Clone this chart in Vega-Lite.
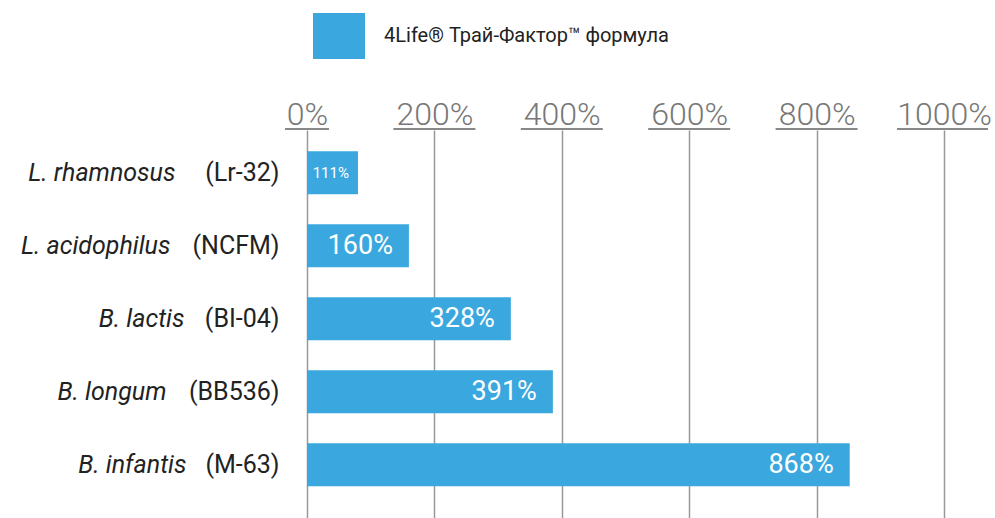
{
  "$schema": "https://vega.github.io/schema/vega-lite/v6.json",
  "width": 637,
  "height": 388,
  "autosize": {"type": "none"},
  "padding": {"left": 307, "top": 130, "right": 51, "bottom": 0},
  "background": "white",
  "config": {"view": {"stroke": null}, "font": "Roboto"},
  "datasets": {
    "bars": [
      {"name": "L. rhamnosus (Lr-32)", "value": 80, "label": "111%", "series": "4Life® Трай-Фактор™ формула"},
      {"name": "L. acidophilus (NCFM)", "value": 160, "label": "160%", "series": "4Life® Трай-Фактор™ формула"},
      {"name": "B. lactis (BI-04)", "value": 320, "label": "328%", "series": "4Life® Трай-Фактор™ формула"},
      {"name": "B. longum (BB536)", "value": 386, "label": "391%", "series": "4Life® Трай-Фактор™ формула"},
      {"name": "B. infantis (M-63)", "value": 852, "label": "868%", "series": "4Life® Трай-Фактор™ формула"}
    ],
    "ticks": [{"value": 0}, {"value": 200}, {"value": 400}, {"value": 600}, {"value": 800}, {"value": 1000}]
  },
  "encoding": {
    "x": {
      "field": "value", "type": "quantitative",
      "scale": {"domain": [0, 1000], "nice": false, "zero": true},
      "axis": {
        "title": null, "orient": "top", "values": [0, 200, 400, 600, 800, 1000],
        "labelExpr": "datum.value + '%'",
        "grid": true, "gridColor": "#999999", "gridWidth": 1.5,
        "domain": false, "ticks": false, "tickSize": 0,
        "labelPadding": 6, "labelBaseline": "alphabetic",
        "labelFont": "Roboto", "labelFontSize": 32, "labelFontWeight": 300,
        "labelColor": "#777777", "labelFlush": false, "labelOverlap": false
      }
    }
  },
  "layer": [
    {
      "data": {"name": "bars"},
      "mark": {"type": "bar"},
      "encoding": {
        "y": {
          "field": "name", "type": "nominal", "sort": null,
          "scale": {"paddingInner": 0.41, "paddingOuter": 0.363, "align": 0.4},
          "axis": {
            "title": null, "domain": false, "ticks": false, "tickSize": 0,
            "labelExpr": "slice(datum.value, 0, indexof(datum.value, ' ('))",
            "labelFont": "Roboto", "labelFontStyle": "italic", "labelFontSize": 25,
            "labelColor": "#222222", "labelLimit": 0,
            "labelPadding": {
              "condition": [
                {"test": "datum.value == 'L. rhamnosus (Lr-32)'", "value": 132},
                {"test": "datum.value == 'L. acidophilus (NCFM)'", "value": 137},
                {"test": "datum.value == 'B. lactis (BI-04)'", "value": 123},
                {"test": "datum.value == 'B. longum (BB536)'", "value": 141}
              ],
              "value": 121
            }
          }
        },
        "color": {
          "field": "series", "type": "nominal",
          "scale": {"range": ["#3AA8DE"]},
          "legend": {
            "orient": "none", "legendX": 6, "legendY": -120, "title": null,
            "symbolType": "M-1,-0.885H1V0.885H-1Z", "symbolSize": 2704,
            "symbolStrokeWidth": 0, "symbolOpacity": 1,
            "labelFont": "Roboto", "labelFontSize": 20, "labelColor": "#222222",
            "labelOffset": 19, "padding": 0, "labelLimit": 0
          }
        }
      }
    },
    {
      "data": {"name": "bars"},
      "transform": [{"filter": "datum.value >= 100"}],
      "mark": {"type": "text", "align": "right", "baseline": "middle", "dx": -16, "color": "white", "font": "Roboto", "fontSize": 27},
      "encoding": {
        "y": {
          "field": "name", "type": "nominal", "sort": null,
          "axis": {
            "title": null, "domain": false, "ticks": false, "tickSize": 0,
            "labelExpr": "slice(datum.value, indexof(datum.value, ' (') + 1)",
            "labelFont": "Roboto", "labelFontSize": 25, "labelColor": "#222222",
            "labelLimit": 0, "labelPadding": 28, "orient": "left"
          }
        },
        "text": {"field": "label"}
      }
    },
    {
      "data": {"name": "bars"},
      "transform": [{"filter": "datum.value < 100"}],
      "mark": {"type": "text", "align": "right", "baseline": "middle", "dx": -9, "color": "white", "font": "Roboto", "fontSize": 15},
      "encoding": {
        "y": {"field": "name", "type": "nominal", "sort": null, "axis": null},
        "text": {"field": "label"}
      }
    },
    {
      "data": {"name": "ticks"},
      "transform": [{"filter": "datum.value == 0"}],
      "mark": {"type": "rule", "color": "#888888", "strokeWidth": 2, "xOffset": -22, "x2Offset": 22},
      "encoding": {"x2": {"field": "value"}, "y": {"value": -1}}
    },
    {
      "data": {"name": "ticks"},
      "transform": [{"filter": "datum.value > 0 && datum.value < 1000"}],
      "mark": {"type": "rule", "color": "#888888", "strokeWidth": 2, "xOffset": -41, "x2Offset": 41},
      "encoding": {"x2": {"field": "value"}, "y": {"value": -1}}
    },
    {
      "data": {"name": "ticks"},
      "transform": [{"filter": "datum.value == 1000"}],
      "mark": {"type": "rule", "color": "#888888", "strokeWidth": 2, "xOffset": -47, "x2Offset": 44},
      "encoding": {"x2": {"field": "value"}, "y": {"value": -1}}
    }
  ],
  "resolve": {"axis": {"y": "independent"}}
}
